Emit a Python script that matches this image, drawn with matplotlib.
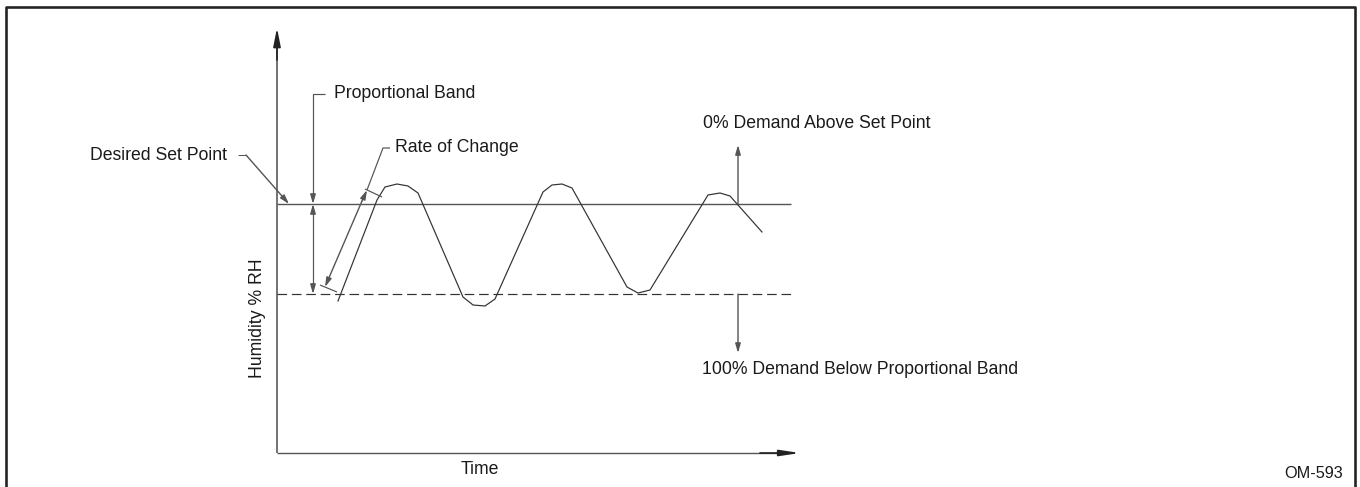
import matplotlib
matplotlib.use("Agg")
import matplotlib.pyplot as plt
from matplotlib import font_manager

# ---------------- data ----------------
# humidity trace (time position, humidity position) in drawing units
curve_time = [338, 377, 385, 397, 408, 418, 463, 473, 485, 495, 543, 552, 562,
              572, 627, 638, 650, 708, 720, 730, 738, 762]
curve_humidity = [301, 200, 187, 184, 186, 193, 297, 305, 306, 299, 192, 185, 184,
                  188, 287, 293, 290, 195, 193, 196, 205, 232]

set_point = 204          # desired set point level
band_bottom = 294        # bottom of proportional band

labels = {
    "set": "Desired Set Point",
    "band": "Proportional Band",
    "rate": "Rate of Change",
    "above": "0% Demand Above Set Point",
    "below": "100% Demand Below Proportional Band",
    "ylabel": "Humidity % RH",
    "xlabel": "Time",
    "code": "OM-593",
}

# ---------------- fonts ----------------
names = {f.name for f in font_manager.fontManager.ttflist}
if "Liberation Sans Narrow" in names:
    FAM = ["Liberation Sans Narrow", "Liberation Sans", "DejaVu Sans"]
    FS = 14.4
else:
    FAM = ["Liberation Sans", "DejaVu Sans"]
    FS = 12.7
plt.rcParams["font.family"] = FAM

W, H = 1360, 487
fig = plt.figure(figsize=(W / 100, H / 100), dpi=100)
ax = fig.add_axes([0, 0, 1, 1])
ax.set_xlim(0, W)
ax.set_ylim(H, 0)
ax.axis("off")

TXT = "#1a1a1a"
AXC = "#555555"
CUR = "#333333"
PX = 0.72  # 1px in points


def arrow(x0, y0, x1, y1, hl=0.6, hw=0.2, color=AXC, lw=1.0):
    ax.annotate("", xy=(x1, y1), xytext=(x0, y0),
                arrowprops=dict(arrowstyle=f"-|>,head_length={hl},head_width={hw}",
                                color=color, lw=lw, shrinkA=0, shrinkB=0,
                                mutation_scale=10))


def line(xs, ys, color=AXC, lw=1.0, **kw):
    ax.plot(xs, ys, color=color, lw=lw, solid_capstyle="butt", **kw)


# frame (open at bottom)
line([6, 6, 1355, 1355], [H, 7, 7, H], color="#222222", lw=2.6 * PX)

# axes
y_axis_x, x_axis_y = 277, 453
line([y_axis_x, y_axis_x], [x_axis_y, 40], lw=1.6 * PX)
arrow(y_axis_x, 60, y_axis_x, 28, hl=1.1, hw=0.22, color="#222222", lw=1.2)
line([y_axis_x, 785], [x_axis_y, x_axis_y], lw=1.4 * PX)
arrow(760, x_axis_y, 800, x_axis_y, hl=1.2, hw=0.18, color="#222222", lw=1.2)

# set point and proportional band lines
line([y_axis_x, 791], [set_point, set_point], lw=1.4 * PX)
ax.plot([y_axis_x, 791], [band_bottom, band_bottom], color="#333333", lw=1.2 * PX,
        dashes=(8, 4))

# humidity trace
ax.plot(curve_time, curve_humidity, color=CUR, lw=1.2 * PX, solid_joinstyle="miter")

# desired set point leader
line([238, 246], [155, 155], lw=1.0 * PX)
arrow(246, 155, 289, set_point, hl=0.55, hw=0.16)
ax.text(227, 155, labels["set"], ha="right", va="center", fontsize=FS, color=TXT)

# proportional band dimension
pb_x = 313
line([pb_x + 12, pb_x, pb_x], [94, 94, set_point - 6], lw=1.2 * PX)
arrow(pb_x, set_point - 8, pb_x, set_point, hl=0.55, hw=0.16)
arrow(pb_x, set_point + 8, pb_x, set_point, hl=0.55, hw=0.16)
line([pb_x, pb_x], [set_point + 6, band_bottom - 6], lw=1.2 * PX)
arrow(pb_x, band_bottom - 10, pb_x, band_bottom, hl=0.55, hw=0.16)
ax.text(334, 93, labels["band"], ha="left", va="center", fontsize=FS, color=TXT)

# rate of change dimension
line([390, 383, 367], [148, 148, 190], lw=1.2 * PX)
arrow(362, 201, 367, 190, hl=0.55, hw=0.16)
arrow(362, 201, 325, 287, hl=0.55, hw=0.16)
line([365, 382], [189, 197], lw=1.2 * PX)
line([320, 337], [285, 292], lw=1.2 * PX)
ax.text(395, 148, labels["rate"], ha="left", va="center", fontsize=FS, color=TXT)

# demand arrows
dm_x = 738
arrow(dm_x, set_point, dm_x, 145, hl=0.55, hw=0.16)
arrow(dm_x, band_bottom, dm_x, 353, hl=0.55, hw=0.16)
ax.text(703, 123, labels["above"], ha="left", va="center", fontsize=FS, color=TXT)
ax.text(702, 370, labels["below"], ha="left", va="center", fontsize=FS, color=TXT)

# axis labels
ax.text(257, 318, labels["ylabel"], ha="center", va="center", rotation=90,
        fontsize=FS, color=TXT)
ax.text(480, 469, labels["xlabel"], ha="center", va="center", fontsize=FS, color=TXT)
ax.text(1343, 473, labels["code"], ha="right", va="center", fontsize=FS * 0.92,
        color=TXT)

fig.savefig("out.png", dpi=100, facecolor="white")
